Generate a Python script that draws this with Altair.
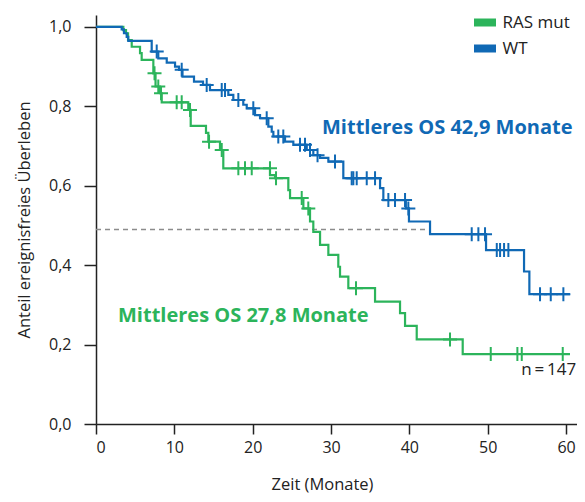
import altair as alt
import pandas as pd

GREEN = "#2cb45b"
BLUE = "#1069b5"
FONT = "Open Sans"

groups = ["RAS mut", "WT"]

# Kaplan-Meier step functions (time in months, survival after the step)
ras_t = [0, 3.49, 3.83, 4.09, 4.56, 5.62, 5.83, 7.32, 7.60, 8.17, 8.39, 11.78, 12.09,
         14.04, 14.34, 15.83, 16.25, 22.21, 22.85, 24.55, 24.77, 26.47, 27.32, 27.74,
         28.60, 29.66, 30.93, 31.15, 32.21, 35.62, 38.81, 39.45, 40.94, 46.81, 60.5]
ras_s = [1.0, 0.992, 0.984, 0.967, 0.950, 0.934, 0.917, 0.883, 0.850, 0.833, 0.810, 0.791,
         0.751, 0.733, 0.711, 0.690, 0.644, 0.627, 0.619, 0.589, 0.569, 0.543, 0.510,
         0.484, 0.451, 0.426, 0.396, 0.371, 0.342, 0.308, 0.279, 0.247, 0.213, 0.176, 0.176]
ras_cens_t = [7.47, 7.95, 8.30, 10.30, 10.94, 12.0, 14.43, 16.05, 18.17, 19.02, 19.88,
              22.21, 22.98, 26.26, 27.10, 33.19, 45.19, 50.39, 53.79, 54.35, 59.58]
ras_cens_s = [0.883, 0.850, 0.833, 0.810, 0.810, 0.791, 0.711, 0.690, 0.644, 0.644, 0.644,
              0.644, 0.619, 0.569, 0.543, 0.342, 0.213, 0.176, 0.176, 0.176, 0.176]

wt_t = [0, 3.28, 3.57, 3.92, 4.12, 7.11, 7.95, 9.03, 10.09, 10.6, 11.04, 12.51, 13.66,
        14.55, 16.89, 17.53, 18.80, 19.24, 20.30, 20.94, 22.00, 22.43, 22.64, 24.13,
        25.19, 26.90, 27.74, 28.60, 29.66, 31.57, 36.26, 36.68, 39.55, 39.95, 42.64,
        49.79, 54.64, 55.32, 60.5]
wt_s = [1.0, 0.994, 0.984, 0.975, 0.965, 0.938, 0.921, 0.910, 0.900, 0.892, 0.875, 0.862,
        0.854, 0.841, 0.829, 0.816, 0.804, 0.795, 0.778, 0.770, 0.749, 0.736, 0.724,
        0.711, 0.703, 0.690, 0.677, 0.670, 0.661, 0.619, 0.594, 0.564, 0.543, 0.510,
        0.478, 0.438, 0.384, 0.327, 0.327]
wt_cens_t = [7.75, 10.94, 14.13, 16.05, 16.47, 18.17, 20.08, 21.79, 23.27, 23.91, 26.04,
             26.68, 27.32, 28.28, 30.51, 32.64, 32.85, 33.28, 34.56, 35.62, 37.32, 38.17,
             39.45, 39.87, 47.96, 48.81, 49.66, 51.16, 51.58, 52.09, 52.64, 56.68, 58.05,
             59.66]
wt_cens_s = [0.938, 0.892, 0.854, 0.841, 0.841, 0.816, 0.795, 0.770, 0.724, 0.724, 0.703,
             0.703, 0.690, 0.677, 0.661, 0.619, 0.619, 0.619, 0.619, 0.619, 0.564, 0.564,
             0.564, 0.543, 0.478, 0.478, 0.478, 0.438, 0.438, 0.438, 0.438, 0.327, 0.327,
             0.327]

x_ticks = [0, 10, 20, 30, 40, 50, 60]
y_ticks = [0, 0.2, 0.4, 0.6, 0.8, 1.0]

median_level = 0.49
median_end = 42.64

ann_labels = ["Mittleres OS 42,9 Monate", "Mittleres OS 27,8 Monate"]
ann_group = ["WT", "RAS mut"]
ann_x = [28.85, 2.81]
ann_y = [0.746, 0.272]

n_label = "n\u2009=\u2009147"
n_x = 61.3
n_y = 0.136

steps = pd.concat([
    pd.DataFrame({"t": ras_t, "s": ras_s, "grp": "RAS mut"}),
    pd.DataFrame({"t": wt_t, "s": wt_s, "grp": "WT"}),
])
cens = pd.concat([
    pd.DataFrame({"t": ras_cens_t, "s": ras_cens_s, "grp": "RAS mut"}),
    pd.DataFrame({"t": wt_cens_t, "s": wt_cens_s, "grp": "WT"}),
])
ann = pd.DataFrame({"label": ann_labels, "grp": ann_group, "t": ann_x, "s": ann_y})
ref = pd.DataFrame({"t": [0], "t2": [median_end], "s": [median_level]})
ntxt = pd.DataFrame({"label": [n_label], "t": [n_x], "s": [n_y]})

xscale = alt.Scale(domain=[0, 61.4], nice=False, zero=False)
yscale = alt.Scale(domain=[0, 1.03], nice=False)
cscale = alt.Scale(domain=groups, range=[GREEN, BLUE])

X = alt.X("t:Q", scale=xscale,
          axis=alt.Axis(values=x_ticks, title="Zeit (Monate)", tickSize=10,
                        labelPadding=5, titleX=226, titleY=60, titleBaseline="middle"))
Y = alt.Y("s:Q", scale=yscale,
          axis=alt.Axis(values=y_ticks, title="Anteil ereignisfreies Überleben",
                        tickSize=12, labelPadding=13, titlePadding=16,
                        labelExpr="replace(format(datum.value, '.1f'), '.', ',')"))

lines = alt.Chart(steps).mark_line(interpolate="step-after", strokeWidth=2.2).encode(
    x=X, y=Y,
    color=alt.Color("grp:N", scale=cscale,
                    legend=alt.Legend(title=None, orient="none", legendX=379.5, legendY=-2,
                                      symbolType="M-2,0H2", symbolSize=121,
                                      symbolStrokeWidth=8, labelFontSize=17,
                                      labelFont=FONT, labelColor="#222",
                                      labelOffset=8, rowPadding=-11)),
    detail="grp:N",
)

marks = alt.Chart(cens).mark_point(shape="M-1,0H1M0,-1V1", filled=False, size=196,
                                   strokeWidth=2, opacity=1).encode(
    x="t:Q", y="s:Q", color=alt.Color("grp:N", scale=cscale, legend=None))

rule = alt.Chart(ref).mark_rule(color="#8c8c8c", strokeWidth=1.5, strokeDash=[5, 4]).encode(
    x="t:Q", x2="t2:Q", y="s:Q")

texts = alt.Chart(ann).mark_text(align="left", baseline="middle", fontWeight="bold",
                                 fontSize=20, font=FONT).encode(
    x="t:Q", y="s:Q", text="label:N", color=alt.Color("grp:N", scale=cscale, legend=None))

ntext = alt.Chart(ntxt).mark_text(align="right", baseline="middle", fontSize=17,
                                  font=FONT, color="#222").encode(
    x="t:Q", y="s:Q", text="label:N")

chart = alt.layer(rule, lines, marks, texts, ntext).properties(
    width=481, height=409, autosize="none",
    padding={"left": 88, "top": 7, "right": 0, "bottom": 70},
).configure_view(stroke=None).configure_axis(
    grid=False, domainColor="#222", tickColor="#222", domainWidth=1.5, tickWidth=1.5,
    labelFont=FONT, labelFontSize=16, labelColor="#222",
    titleFont=FONT, titleFontSize=16.5, titleFontWeight="normal", titleColor="#222",
)

chart.save("out.html", embed_options={"renderer": "svg", "actions": False})
